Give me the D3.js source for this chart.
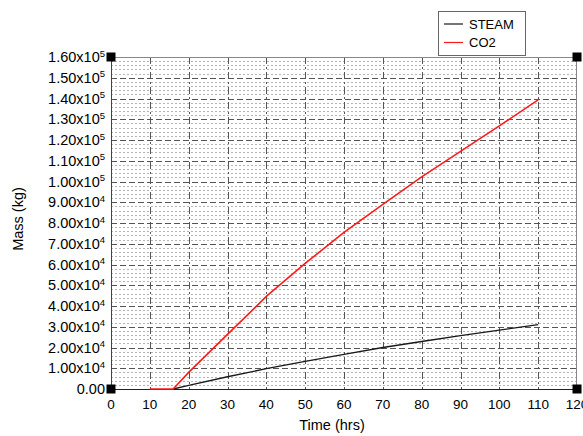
<!DOCTYPE html>
<html>
<head>
<meta charset="utf-8">
<script src="https://cdn.jsdelivr.net/npm/d3@7/dist/d3.min.js"></script>
<style>
  html, body { margin: 0; padding: 0; background: #fff; }
  svg { display: block; font-family: "Liberation Sans", Arial, sans-serif; }
</style>
</head>
<body>
<svg id="chart" width="583" height="436"></svg>
<script>
// Time axis (hours) and mass series (kg)
const steamTime = [16, 20, 30, 40, 50, 60, 70, 80, 90, 100, 110];
const steamMass = [0, 1700, 5900, 9800, 13300, 16700, 20000, 22900, 25700, 28400, 31000];
const co2Time = [10, 16, 20, 30, 40, 44, 50, 60, 70, 80, 90, 100, 110];
const co2Mass = [0, 0, 8000, 26300, 44600, 51000, 60500, 75500, 89000, 102200, 114500, 126800, 139300];
const xTicks = [0, 10, 20, 30, 40, 50, 60, 70, 80, 90, 100, 110, 120];
const yTicks = d3.range(0, 160001, 10000);
const yMinor = d3.range(0, 160001, 2000);
const seriesNames = ["STEAM", "CO2"];
const seriesColors = ["#1a1a1a", "#ff1a1a"];

const svg = d3.select("#chart");
const plotL = 111, plotR = 577, plotT = 57, plotB = 389;

const x = d3.scaleLinear().domain([0, 120]).range([plotL, plotR]);
const y = d3.scaleLinear().domain([0, 160000]).range([plotB, plotT]);

// minor horizontal dotted grid
svg.append("g").selectAll("line")
  .data(yMinor.filter(v => v % 10000 !== 0))
  .join("line")
  .attr("x1", plotL).attr("x2", plotR)
  .attr("y1", d => Math.round(y(d)) + 0.5).attr("y2", d => Math.round(y(d)) + 0.5)
  .attr("stroke", "#b4b4b4").attr("stroke-width", 1)
  .attr("stroke-dasharray", "2,2");

// major horizontal dashed grid
svg.append("g").selectAll("line")
  .data(yTicks.filter(v => v > 0 && v < 160000))
  .join("line")
  .attr("x1", plotL).attr("x2", plotR)
  .attr("y1", d => Math.round(y(d)) + 0.5).attr("y2", d => Math.round(y(d)) + 0.5)
  .attr("stroke", "#555").attr("stroke-width", 1)
  .attr("stroke-dasharray", "6,3");

// major vertical dash-dot grid
svg.append("g").selectAll("line")
  .data(xTicks.filter(v => v > 0 && v < 120))
  .join("line")
  .attr("x1", d => Math.round(x(d)) + 0.5).attr("x2", d => Math.round(x(d)) + 0.5)
  .attr("y1", plotT).attr("y2", plotB)
  .attr("stroke", "#555").attr("stroke-width", 1)
  .attr("stroke-dasharray", "7,3,2,3");

// plot frame
svg.append("line").attr("x1", plotL).attr("x2", plotR).attr("y1", plotT + 0.5).attr("y2", plotT + 0.5)
  .attr("stroke", "#888");
svg.append("line").attr("x1", plotR - 0.5).attr("x2", plotR - 0.5).attr("y1", plotT).attr("y2", plotB)
  .attr("stroke", "#888");
svg.append("line").attr("x1", plotL + 0.5).attr("x2", plotL + 0.5).attr("y1", plotT).attr("y2", plotB)
  .attr("stroke", "#444");
svg.append("line").attr("x1", plotL).attr("x2", plotR).attr("y1", plotB + 0.5).attr("y2", plotB + 0.5)
  .attr("stroke", "#222");

// series lines
const line = d3.line().x(d => x(d[0])).y(d => y(d[1]));
const steamPts = steamTime.map((t, i) => [t, steamMass[i]]);
const co2Pts = co2Time.map((t, i) => [t, co2Mass[i]]);
svg.append("path").datum(steamPts).attr("d", line)
  .attr("fill", "none").attr("stroke", seriesColors[0]).attr("stroke-width", 1.3);
svg.append("path").datum(co2Pts).attr("d", line)
  .attr("fill", "none").attr("stroke", seriesColors[1]).attr("stroke-width", 1.6);

// corner markers
const corners = [[0, 0], [120, 0], [0, 160000], [120, 160000]];
svg.append("g").selectAll("rect").data(corners).join("rect")
  .attr("x", d => x(d[0]) - 4.5).attr("y", d => y(d[1]) - 4.5)
  .attr("width", 9).attr("height", 9).attr("fill", "#000");

// y tick labels in scientific form
const yLab = svg.append("g").attr("font-size", 14.5).attr("fill", "#000");
yTicks.forEach(v => {
  const t = yLab.append("text").attr("x", 105).attr("y", y(v) + 5.2).attr("text-anchor", "end");
  if (v === 0) { t.text("0.00"); return; }
  const e = Math.floor(Math.log10(v));
  const m = (v / Math.pow(10, e)).toFixed(2);
  t.append("tspan").text(m + "x10");
  t.append("tspan").attr("dy", -5.5).attr("font-size", 9.5).text(e);
});

// x tick labels
svg.append("g").attr("font-size", 13.5).selectAll("text").data(xTicks).join("text")
  .attr("x", d => x(d)).attr("y", 409).attr("text-anchor", "middle").text(d => d);

// axis titles
svg.append("text").attr("x", 332).attr("y", 430).attr("text-anchor", "middle")
  .attr("font-size", 14.5).text("Time (hrs)");
svg.append("text").attr("transform", "translate(23,219) rotate(-90)").attr("text-anchor", "middle")
  .attr("font-size", 14.5).text("Mass (kg)");

// legend
const lg = svg.append("g");
lg.append("rect").attr("x", 438.5).attr("y", 11.5).attr("width", 87).attr("height", 44)
  .attr("fill", "#fff").attr("stroke", "#666");
seriesNames.forEach((name, i) => {
  const ly = 24 + i * 18.5;
  lg.append("line").attr("x1", 444).attr("x2", 463).attr("y1", ly).attr("y2", ly)
    .attr("stroke", seriesColors[i]).attr("stroke-width", 1.2);
  lg.append("text").attr("x", 469).attr("y", ly + 4.7).attr("font-size", 13).text(name);
});
</script>
</body>
</html>
